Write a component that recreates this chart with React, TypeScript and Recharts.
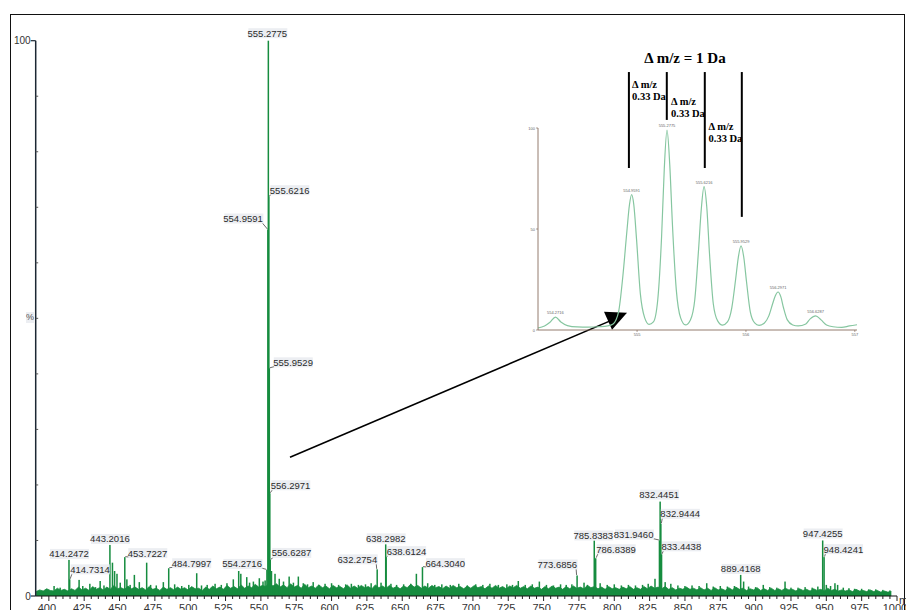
import React from 'react';
import { ComposedChart, Area, Bar, Line, Scatter, XAxis, YAxis, ReferenceLine, ReferenceDot } from 'recharts';

// ---------- main spectrum data ----------
const noiseStart = 391;
const noiseStep = 2.5;
const noiseLevels: number[] = [
  0.8, 1.1, 0.9, 1.3, 1.0, 0.9, 1.4, 1.0, 1.2, 0.9,
  1.3, 1.0, 1.6, 1.1, 1.4, 1.0, 1.7, 1.2, 1.5, 1.1,
  1.6, 1.2, 1.9, 1.3, 1.5, 1.2, 1.8, 1.3, 1.6, 1.2,
  1.5, 1.1, 1.7, 1.2, 1.4, 1.0, 1.6, 1.2, 1.5, 1.1,
  1.6, 1.2, 1.5, 1.1, 1.7, 1.3, 1.4, 1.0, 1.6, 1.2,
  1.8, 1.3, 1.6, 1.2, 1.9, 1.4, 1.7, 1.3, 2.0, 1.4,
  1.8, 1.5, 2.1, 1.6, 1.9, 1.7, 2.4, 1.8, 2.2, 1.6,
  2.0, 1.5, 2.2, 1.6, 1.9, 1.4, 2.1, 1.5, 1.8, 1.4,
  2.0, 1.5, 1.8, 1.3, 1.9, 1.5, 1.7, 1.3, 2.0, 1.4,
  1.8, 1.4, 1.9, 1.5, 1.7, 1.3, 2.0, 1.5, 1.8, 1.4,
  1.9, 1.4, 1.7, 1.3, 1.8, 1.5, 2.1, 1.6, 1.9, 1.4,
  1.8, 1.4, 1.9, 1.5, 1.7, 1.3, 1.8, 1.4, 1.9, 1.5,
  1.7, 1.3, 1.8, 1.4, 1.9, 1.5, 1.7, 1.3, 1.8, 1.4,
  1.9, 1.4, 1.7, 1.3, 1.8, 1.5, 1.9, 1.4, 1.7, 1.3,
  1.8, 1.4, 1.6, 1.2, 1.7, 1.3, 1.8, 1.4, 1.6, 1.2,
  1.7, 1.3, 1.8, 1.4, 1.6, 1.3, 1.9, 1.5, 1.7, 1.3,
  1.6, 1.2, 1.7, 1.3, 1.5, 1.2, 1.6, 1.3, 1.7, 1.2,
  1.5, 1.2, 1.7, 1.3, 1.8, 1.4, 1.6, 1.3, 1.7, 1.2,
  1.5, 1.1, 1.4, 1.2, 1.6, 1.2, 1.4, 1.1, 1.5, 1.1,
  1.4, 1.0, 1.5, 1.1, 1.3, 1.0, 1.5, 1.1, 1.6, 1.2,
  1.4, 1.0, 1.3, 1.1, 1.5, 1.0, 1.3, 1.0, 1.4, 1.0,
  1.3, 1.0, 1.4, 1.1, 1.2, 0.9, 1.3, 1.0, 1.2, 0.9,
  1.3, 1.0, 1.2, 0.9, 1.4, 1.0, 1.2, 0.9, 1.1, 0.9,
  1.1, 0.8, 1.2, 0.9, 1.0, 0.8, 1.1, 0.8, 1.0, 0.7,
  0.9, 0.7, 0.8,
];

const minorPeaks: [number, number][] = [
  [403.7, 1.8], [408, 1.5], [421.4, 2.9], [424, 1.8], [429, 2.2], [433, 1.6], [436.3, 2.7], [439, 1.9],
  [445, 6.0], [446.5, 4.5], [448.2, 4.0], [450.5, 2.4], [455.2, 3.0], [457.5, 2.0], [460.5, 3.8], [464, 2.5],
  [469.2, 6.0], [472, 2.0], [476, 1.9], [481, 2.5], [489, 2.1], [494, 1.8], [499, 2.0], [504.6, 4.1],
  [508, 1.9], [512, 2.0], [517.6, 2.2], [522, 2.0], [526, 2.3], [530.5, 3.0], [534.3, 4.5], [535.8, 4.0],
  [540, 3.4], [542, 2.4], [544.7, 2.6], [548.9, 3.2], [551.5, 2.6], [553, 2.8], [557.5, 4.5], [560, 4.0],
  [563, 3.1], [566, 2.6], [570, 3.5], [573, 2.4], [576.5, 3.5], [580, 2.3], [583, 2.1], [587, 2.5],
  [591, 2.0], [595.4, 2.2], [600, 2.3], [605, 2.0], [610, 2.1], [614, 2.2], [619, 2.0], [624, 2.1],
  [628, 2.3], [635, 2.4], [642, 2.2], [646, 2.0], [651, 2.1], [656, 2.2], [660, 4.0], [668, 2.3],
  [673, 2.0], [678, 2.1], [684, 2.0], [690, 2.2], [696, 1.9], [702, 2.1], [707, 2.0], [712, 2.2],
  [718, 2.0], [724, 2.1], [728, 2.0], [732.1, 2.7], [737, 2.0], [742, 2.1], [747, 2.6], [752, 2.0],
  [757, 1.9], [762, 2.1], [766, 2.0], [770, 2.1], [778.6, 2.4], [781, 2.0], [790, 2.3], [795, 2.0],
  [800, 2.1], [805, 1.9], [810, 2.0], [815, 1.9], [820, 2.0], [824, 2.2], [828.8, 3.1], [836, 2.5],
  [840, 2.2], [845, 1.9], [850, 1.8], [855, 1.9], [860, 1.8], [865.4, 2.3], [870, 1.7], [875, 1.8],
  [880, 1.7], [885, 1.8], [891.5, 2.6], [895, 1.7], [900, 1.6], [905.4, 2.0], [910, 1.6], [915, 1.5],
  [920.8, 2.6], [925, 1.5], [930, 1.5], [935, 1.6], [940, 1.5], [944, 1.7], [950, 2.0], [953, 1.8],
  [956.1, 2.3], [958, 2.0], [962, 1.5], [966, 1.4], [970, 1.3], [975, 1.3], [980, 1.2], [985, 1.2],
  [990, 1.1], [995, 1.0],
];

const labeledMz: number[] = [
  414.2472, 414.7314, 443.2016, 453.7227, 484.7997, 554.2716, 554.9591, 555.2775, 555.6216,
  555.9529, 556.2971, 556.6287, 632.2754, 638.2982, 638.6124, 664.3040, 773.6856, 785.8383,
  786.8389, 831.9460, 832.4451, 832.9444, 833.4438, 889.4168, 947.4255, 948.4241,
];
const labeledIntensity: number[] = [
  6.5, 3.0, 9.2, 7.0, 5.0, 4.7, 66, 100, 72,
  41, 18.5, 6.5, 4.8, 9.3, 7.0, 5.2, 3.7, 10.0,
  6.8, 10.0, 17.0, 13.0, 7.5, 3.8, 10.0, 7.0,
];

const xTicks: number[] = [];
for (let t = 395; t <= 1000; t += 5) xTicks.push(t);
const yTicks = [0, 10, 20, 30, 40, 50, 60, 70, 80, 90, 100];

// label placement (layout only)
type Lay = { a: 'start' | 'middle' | 'end'; dx: number; dy: number };
const labelLayout: Record<string, Lay> = {
  '414.2472': { a: 'middle', dx: 0, dy: -6 },
  '414.7314': { a: 'start', dx: 0.5, dy: -10 },
  '443.2016': { a: 'middle', dx: 0, dy: -6 },
  '453.7227': { a: 'start', dx: 3, dy: -4 },
  '484.7997': { a: 'start', dx: 3, dy: -5 },
  '554.2716': { a: 'end', dx: -5, dy: -6 },
  '554.9591': { a: 'end', dx: -5, dy: -11 },
  '555.2775': { a: 'middle', dx: -1, dy: -7.5 },
  '555.6216': { a: 'start', dx: 1, dy: -6 },
  '555.9529': { a: 'start', dx: 4, dy: -6 },
  '556.2971': { a: 'start', dx: 1, dy: -8 },
  '556.6287': { a: 'start', dx: 1.5, dy: -7 },
  '632.2754': { a: 'end', dx: 0, dy: -10 },
  '638.2982': { a: 'middle', dx: 0, dy: -6 },
  '638.6124': { a: 'start', dx: 0.5, dy: -6 },
  '664.3040': { a: 'start', dx: 3, dy: -4 },
  '773.6856': { a: 'end', dx: 0, dy: -11 },
  '785.8383': { a: 'middle', dx: -1, dy: -5 },
  '786.8389': { a: 'start', dx: 0.5, dy: -9 },
  '831.9460': { a: 'end', dx: -6, dy: -6 },
  '832.4451': { a: 'middle', dx: -1, dy: -7 },
  '832.9444': { a: 'start', dx: -0.5, dy: -10 },
  '833.4438': { a: 'start', dx: 0, dy: -8 },
  '889.4168': { a: 'middle', dx: 0, dy: -6 },
  '947.4255': { a: 'middle', dx: 0, dy: -7 },
  '948.4241': { a: 'start', dx: -0.5, dy: -8 },
};

const labeledPeaks = labeledMz.map((mz, i) => ({ mz, v: labeledIntensity[i], label: mz.toFixed(4) }));
const spectrum: { mz: number; g?: number; s?: number }[] = [
  ...noiseLevels.map((g, i) => ({ mz: noiseStart + i * noiseStep, g })),
  ...minorPeaks.map(([mz, s]) => ({ mz, s })),
  ...labeledPeaks.map((p) => ({ mz: p.mz, s: p.v })),
].sort((a, b) => a.mz - b.mz);

// ---------- inset (zoomed isotope cluster) ----------
const insetMz: number[] = [
  554.09, 554.15, 554.20, 554.25, 554.30, 554.36, 554.45, 554.55, 554.65, 554.73, 554.78, 554.83,
  554.87, 554.905, 554.93, 554.95, 554.97, 554.995, 555.03, 555.07, 555.11,
  555.15, 555.19, 555.225, 555.25, 555.275, 555.30, 555.325, 555.36, 555.40, 555.445,
  555.49, 555.53, 555.565, 555.59, 555.615, 555.64, 555.665, 555.70, 555.74, 555.785,
  555.83, 555.87, 555.905, 555.93, 555.955, 555.98, 556.005, 556.04, 556.08, 556.12,
  556.17, 556.21, 556.245, 556.27, 556.295, 556.32, 556.345, 556.38, 556.43, 556.48,
  556.55, 556.59, 556.64, 556.69, 556.74, 556.80, 556.88, 556.95, 557.02,
];
const insetVal: number[] = [
  1.0, 2.0, 3.8, 6.4, 4.0, 2.2, 1.5, 1.4, 1.6, 2.0, 3.0, 9,
  27, 48, 62, 67, 62, 45, 18, 6, 2.8,
  4, 15, 46, 80, 99, 82, 52, 20, 6, 2.5,
  5, 15, 40, 60, 71, 61, 38, 13, 4.5, 2.4,
  4, 11, 25, 36, 41.6, 36, 24, 9, 3.5, 2.3,
  3.5, 7, 13, 17, 18.8, 16.5, 11, 5, 2.5, 2.0,
  3, 5.5, 7, 5, 2.5, 1.6, 1.3, 2.0, 2.6,
];
const insetData = insetMz.map((mz, i) => ({ mz, v: insetVal[i] }));
const insetLabelMz = [554.25, 554.95, 555.275, 555.615, 555.955, 556.295, 556.64];
const insetLabelVal = [6.4, 67, 99, 71, 41.6, 18.8, 7];
const insetLabelText = ['554.2716', '554.9591', '555.2775', '555.6216', '555.9529', '556.2971', '556.6287'];
const insetLabels = insetLabelMz.map((mz, i) => ({ mz, v: insetLabelVal[i], label: insetLabelText[i] }));
const insetXTicks = [555, 556, 557];
const insetYTicks = [0, 50, 100];

// delta lines (m/z, top %, bottom %)
const deltaLineMz = [554.925, 555.273, 555.622, 555.962];
const deltaLineBottom = [80.2, 104, 80.2, 56];
const deltaLineTop = 127.7;

const SANS = "'Liberation Sans', Arial, Helvetica, sans-serif";
const SERIF = "'Liberation Serif', 'Times New Roman', serif";
const GREEN = '#168c3f';

const XTick = (p: any) => {
  const { x, y, payload } = p;
  const v = payload.value;
  const major = v % 25 === 0;
  return (
    <g>
      <line x1={x} x2={x} y1={y} y2={y + (major ? 5 : 3)} stroke="#222" strokeWidth={1} />
      {major && (
        <text x={x - 2} y={y + 16} textAnchor="middle" fontSize={11} fontFamily={SANS} fill="#333">
          {v}
        </text>
      )}
    </g>
  );
};

const YTick = (p: any) => {
  const { x, y, payload } = p;
  const v = payload.value;
  const major = v === 0 || v === 100;
  return (
    <g>
      {major ? (
        <line x1={x - 5} x2={x} y1={y} y2={y} stroke="#1c2733" strokeWidth={1.2} />
      ) : (
        <line x1={x} x2={x + 2.5} y1={y} y2={y} stroke="#555" strokeWidth={1} />
      )}
      {major && (
        <text x={x - 5} y={y} textAnchor="end" dominantBaseline="central" fontSize={10} fontFamily={SANS} fill="#333">
          {v}
        </text>
      )}
    </g>
  );
};

const Stick = (p: any) => {
  const { x, y, width, height } = p;
  if (x == null || y == null || !height) return null;
  const cx = x + (width || 0) / 2;
  return <rect x={cx - 0.75} y={y} width={1.5} height={height} fill={GREEN} />;
};

const PeakLabel = (props: any) => {
  const { cx, cy, payload } = props;
  if (cx == null || cy == null) return null;
  const lay = labelLayout[payload.label];
  const w = 39;
  const h = 10;
  const tx = cx + lay.dx;
  const ty = cy + lay.dy;
  const left = lay.a === 'start' ? tx : lay.a === 'end' ? tx - w : tx - w / 2;
  let leader: React.ReactNode = null;
  if (lay.a === 'start') {
    leader = <line x1={cx + 0.5} y1={cy - 0.5} x2={left + 2} y2={ty + 4} stroke="#444" strokeWidth={0.8} />;
  } else if (lay.a === 'end') {
    leader = <line x1={cx - 0.5} y1={cy - 0.5} x2={left + w - 1} y2={ty + 4} stroke="#444" strokeWidth={0.8} />;
  }
  return (
    <g>
      {leader}
      <rect x={left + 0.5} y={ty - h / 2} width={w} height={h} fill="#eceef2" />
      <text x={tx} y={ty} textAnchor={lay.a} dominantBaseline="central" fontSize={9.5} fontFamily={SANS} fill="#2b2b2b">
        {payload.label}
      </text>
    </g>
  );
};

const InsetLabel = (props: any) => {
  const { cx, cy, payload } = props;
  if (cx == null || cy == null) return null;
  return (
    <text x={cx} y={cy - 3} textAnchor="middle" fontSize={4} fontFamily={SANS} fill="#666">
      {payload.label}
    </text>
  );
};

const InsetXTick = (p: any) => {
  const { x, y, payload } = p;
  return (
    <g>
      <line x1={x} x2={x} y1={y} y2={y + 2} stroke="#7a5a4a" strokeWidth={0.6} />
      <text x={x} y={y + 6} textAnchor="middle" fontSize={4} fontFamily={SANS} fill="#666">
        {payload.value}
      </text>
    </g>
  );
};

const InsetYTick = (p: any) => {
  const { x, y, payload } = p;
  return (
    <g>
      <line x1={x - 2} x2={x} y1={y} y2={y} stroke="#7a5a4a" strokeWidth={0.6} />
      <text x={x - 3} y={y} textAnchor="end" dominantBaseline="central" fontSize={4} fontFamily={SANS} fill="#666">
        {payload.value}
      </text>
    </g>
  );
};

const ArrowHead = (p: any) => {
  const { cx, cy } = p;
  if (cx == null || cy == null) return null;
  return <polygon points={`${cx},${cy} ${cx - 23},${cy - 1} ${cx - 15},${cy + 17}`} fill="#000" />;
};

export default function App() {
  return (
    <div
      style={{
        position: 'fixed',
        left: 0,
        top: 0,
        width: 906,
        height: 610,
        overflow: 'hidden',
        background: '#fff',
      }}
    >
      {/* frame */}
      <div
        style={{
          position: 'absolute',
          left: 10,
          top: 13.5,
          width: 893,
          height: 620,
          border: '1.5px solid #111',
        }}
      />
      <div style={{ position: 'absolute', left: 0, top: 0 }}>
        <ComposedChart
          width={906}
          height={610}
          data={spectrum}
          margin={{ top: 40.7, right: 9, bottom: 0, left: 0 }}
        >
          <XAxis
            dataKey="mz"
            type="number"
            domain={[390.7, 1000]}
            ticks={xTicks}
            interval={0}
            tick={<XTick />}
            tickLine={false}
            tickSize={0}
            tickMargin={0}
            height={14}
            axisLine={{ stroke: '#111', strokeWidth: 1.2 }}
          />
          <YAxis
            type="number"
            domain={[0, 100]}
            ticks={yTicks}
            interval={0}
            tick={<YTick />}
            tickLine={false}
            tickSize={0}
            tickMargin={0}
            width={35.7}
            axisLine={{ stroke: '#1c2733', strokeWidth: 1.5 }}
          />
          <Area
            type="linear"
            dataKey="g"
            connectNulls
            stroke={GREEN}
            strokeWidth={0.8}
            fill={GREEN}
            fillOpacity={1}
            isAnimationActive={false}
            dot={false}
            activeDot={false}
          />
          <Bar dataKey="s" fill={GREEN} isAnimationActive={false} shape={(p: any) => <Stick {...p} />} />
          <Scatter
            data={labeledPeaks}
            dataKey="v"
            isAnimationActive={false}
            shape={(p: any) => <PeakLabel {...p} />}
          />
          <ReferenceLine
            segment={[{ x: 570.6, y: 25.0 }, { x: 805, y: 50.4 }]}
            stroke="#000"
            strokeWidth={1.6}
            ifOverflow="visible"
          />
          <ReferenceDot x={809} y={51} ifOverflow="visible" shape={(p: any) => <ArrowHead {...p} />} />
        </ComposedChart>
      </div>

      {/* inset */}
      <div style={{ position: 'absolute', left: 500, top: 40 }}>
        <ComposedChart
          width={380}
          height={300}
          data={insetData}
          margin={{ top: 88, right: 23, bottom: 0, left: 0 }}
        >
          <XAxis
            dataKey="mz"
            type="number"
            domain={[554.09, 557.02]}
            ticks={insetXTicks}
            interval={0}
            tick={<InsetXTick />}
            tickLine={false}
            tickSize={0}
            tickMargin={0}
            height={10}
            axisLine={{ stroke: '#7a5a4a', strokeWidth: 0.8 }}
          />
          <YAxis
            type="number"
            domain={[0, 100]}
            ticks={insetYTicks}
            interval={0}
            tick={<InsetYTick />}
            tickLine={false}
            tickSize={0}
            tickMargin={0}
            width={38}
            axisLine={{ stroke: '#7a5a4a', strokeWidth: 0.8 }}
          />
          <Line
            type="monotone"
            dataKey="v"
            stroke="#86c6a0"
            strokeWidth={1.2}
            dot={false}
            activeDot={false}
            isAnimationActive={false}
          />
          <Scatter
            data={insetLabels}
            dataKey="v"
            isAnimationActive={false}
            shape={(p: any) => <InsetLabel {...p} />}
          />
          {deltaLineMz.map((m, i) => (
            <ReferenceLine
              key={i}
              segment={[{ x: m, y: deltaLineTop }, { x: m, y: deltaLineBottom[i] }]}
              stroke="#000"
              strokeWidth={2}
              ifOverflow="visible"
            />
          ))}
        </ComposedChart>
      </div>

      {/* annotation texts */}
      <div
        style={{
          position: 'absolute',
          left: 685,
          top: 58,
          transform: 'translate(-50%, -50%)',
          whiteSpace: 'nowrap',
          fontFamily: SERIF,
          fontWeight: 'bold',
          fontSize: 15,
          lineHeight: 1,
          color: '#000',
        }}
      >
        Δ m/z = 1 Da
      </div>
      {[
        [632, 79],
        [671, 96],
        [708.5, 121],
      ].map(([l, t], i) => (
        <div
          key={i}
          style={{
            position: 'absolute',
            left: l,
            top: t,
            whiteSpace: 'nowrap',
            fontFamily: SERIF,
            fontWeight: 'bold',
            fontSize: 10.5,
            lineHeight: '12px',
            color: '#000',
          }}
        >
          Δ m/z
          <br />
          0.33 Da
        </div>
      ))}
      <div
        style={{
          position: 'absolute',
          left: 26,
          top: 312,
          fontFamily: SANS,
          fontSize: 9,
          lineHeight: '11px',
          color: '#555',
          background: '#eceef2',
        }}
      >
        %
      </div>
      <div
        style={{
          position: 'absolute',
          left: 899,
          top: 594,
          fontFamily: SANS,
          fontSize: 11,
          lineHeight: '12px',
          color: '#333',
          whiteSpace: 'nowrap',
        }}
      >
        m/z
      </div>
    </div>
  );
}
